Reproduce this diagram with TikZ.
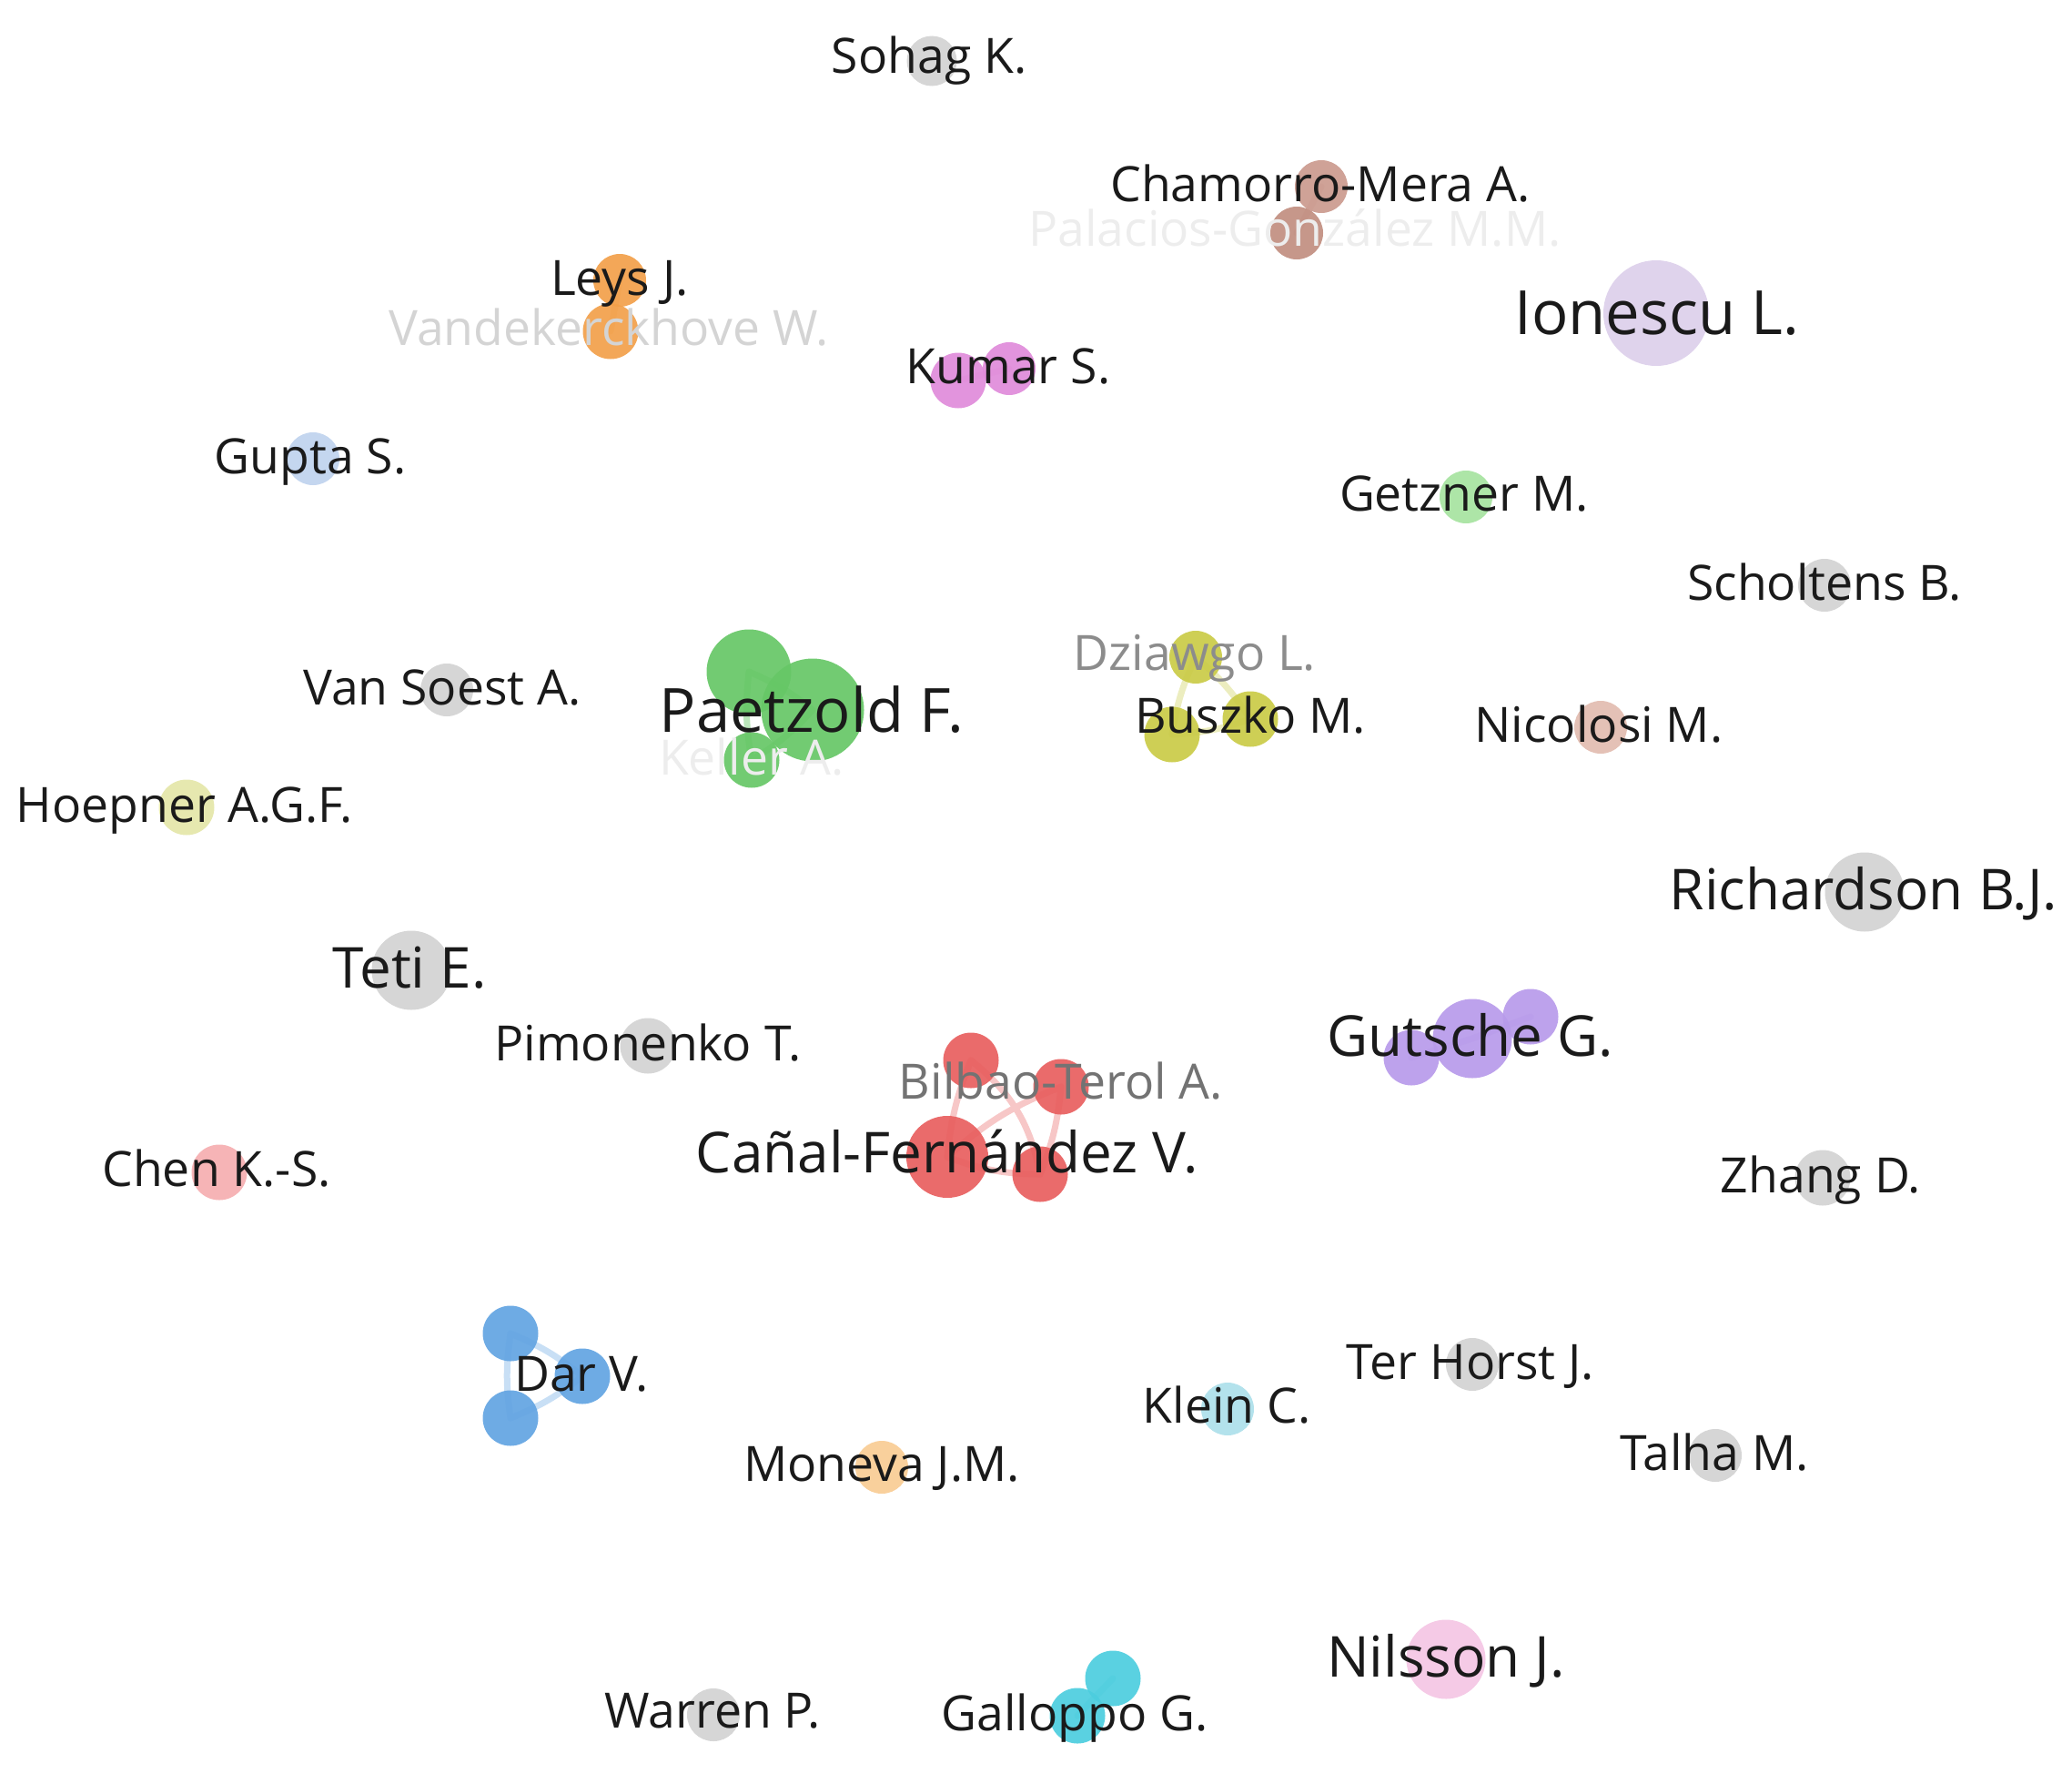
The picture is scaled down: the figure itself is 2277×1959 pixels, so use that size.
\documentclass[tikz,border=0pt]{standalone}
\usepackage{fontspec}
\setmainfont{Open Sans}
\usetikzlibrary{backgrounds}
\definecolor{txt}{HTML}{1A1A1A}
\definecolor{cgray}{HTML}{D2D2D2}
\definecolor{cchamo}{HTML}{CB9A8E}
\definecolor{cpala}{HTML}{C18E80}
\definecolor{corange}{HTML}{F2A04A}
\definecolor{cion}{HTML}{DCCFEA}
\definecolor{ckumar}{HTML}{E08BDA}
\definecolor{cgupta}{HTML}{BFD2EE}
\definecolor{cgetz}{HTML}{A6E3A0}
\definecolor{cyel}{HTML}{CACB47}
\definecolor{cgreen}{HTML}{66C766}
\definecolor{cnico}{HTML}{E2BCB0}
\definecolor{choep}{HTML}{E4E6A8}
\definecolor{cpurp}{HTML}{B79AEA}
\definecolor{cred}{HTML}{E85E5E}
\definecolor{cchen}{HTML}{F5AEB0}
\definecolor{cblue}{HTML}{62A4E2}
\definecolor{cklein}{HTML}{ADE0EA}
\definecolor{cmon}{HTML}{F8CC94}
\definecolor{cnils}{HTML}{F4C6E4}
\definecolor{ccyan}{HTML}{4CCDDE}
\tikzset{
  bub/.style={circle, inner sep=0pt, draw=none, fill=#1, fill opacity=0.92},
  lbl/.style={inner sep=0pt, text height=38pt, text depth=0pt, text=txt, font=\fontsize{53.5}{53.5}\selectfont},
  bigl/.style={text height=44pt, font=\fontsize{62}{62}\selectfont},
  hugel/.style={text height=48pt, font=\fontsize{67}{67}\selectfont},
  link/.style={line width=7pt, draw=#1, line cap=round},
}
\begin{document}
\begin{tikzpicture}[x=1pt,y=-1pt]
\useasboundingbox (0,0) rectangle (2277,1959);
% ---- bubbles ----
\node[bub=cgray, minimum size=55] (sohag) at (1024,67) {};
\node[bub=cchamo, minimum size=58] (chamo) at (1452,205) {};
\node[bub=cpala, minimum size=58] (pala) at (1425,256) {};
\node[bub=corange, minimum size=58] (leys) at (681,308) {};
\node[bub=corange, minimum size=61] (vand) at (671,364) {};
\node[bub=cion, minimum size=116] (ion) at (1820,344) {};
\node[bub=ckumar, minimum size=61] (kumarb) at (1053,418) {};
\node[bub=ckumar, minimum size=58] (kumar) at (1109,405) {};
\node[bub=cgupta, minimum size=58] (gupta) at (344,504) {};
\node[bub=cgetz, minimum size=58] (getz) at (1611,546) {};
\node[bub=cgray, minimum size=58] (schol) at (2005,643) {};
\node[bub=cyel, minimum size=58] (dzia) at (1314,722) {};
\node[bub=cyel, minimum size=61] (busz) at (1374,790) {};
\node[bub=cyel, minimum size=61] (buszb) at (1288,807) {};
\node[bub=cgray, minimum size=58] (vans) at (491,758) {};
\node[bub=cgreen, minimum size=93] (paeta) at (823,738) {};
\node[bub=cgreen, minimum size=113] (paet) at (893,780) {};
\node[bub=cgreen, minimum size=61] (kell) at (826,835) {};
\node[bub=cnico, minimum size=58] (nico) at (1759,799) {};
\node[bub=choep, minimum size=61] (hoep) at (205,887) {};
\node[bub=cgray, minimum size=87] (rich) at (2049,980) {};
\node[bub=cgray, minimum size=87] (teti) at (452,1066) {};
\node[bub=cgray, minimum size=61] (pimo) at (712,1149) {};
\node[bub=cpurp, minimum size=61] (gutsa) at (1551,1162) {};
\node[bub=cpurp, minimum size=87] (guts) at (1618,1141) {};
\node[bub=cpurp, minimum size=61] (gutsb) at (1682,1117) {};
\node[bub=cred, minimum size=61] (redtl) at (1067,1165) {};
\node[bub=cred, minimum size=61] (bilb) at (1166,1194) {};
\node[bub=cred, minimum size=90] (canal) at (1041,1271) {};
\node[bub=cred, minimum size=61] (redbr) at (1143,1290) {};
\node[bub=cchen, minimum size=61] (chen) at (241,1288) {};
\node[bub=cgray, minimum size=61] (zhang) at (2003,1294) {};
\node[bub=cblue, minimum size=61] (dara) at (561,1465) {};
\node[bub=cblue, minimum size=61] (dar) at (640,1512) {};
\node[bub=cblue, minimum size=61] (darb) at (561,1558) {};
\node[bub=cgray, minimum size=58] (terh) at (1618,1499) {};
\node[bub=cklein, minimum size=58] (klein) at (1349,1548) {};
\node[bub=cgray, minimum size=58] (talha) at (1885,1599) {};
\node[bub=cmon, minimum size=58] (mone) at (969,1612) {};
\node[bub=cnils, minimum size=87] (nils) at (1589,1823) {};
\node[bub=cgray, minimum size=58] (warr) at (784,1884) {};
\node[bub=ccyan, minimum size=61] (gallb) at (1223,1844) {};
\node[bub=ccyan, minimum size=61] (gall) at (1184,1885) {};
% ---- links ----
\begin{scope}[on background layer]
\draw[link=cgreen!45] (paeta.center) to[bend left=8] (paet.center);
\draw[link=cgreen!45] (paeta.center) to[bend right=8] (kell.center);
\draw[link=cgreen!45] (paet.center) to[bend left=8] (kell.center);
\draw[link=cyel!35] (dzia.center) to[bend left=8] (busz.center);
\draw[link=cyel!35] (dzia.center) to[bend right=8] (buszb.center);
\draw[link=cyel!35] (buszb.center) to[bend right=8] (busz.center);
\draw[link=cred!35] (redtl.center) to[bend right=8] (canal.center);
\draw[link=cred!35] (redtl.center) to[bend left=20] (redbr.center);
\draw[link=cred!35] (bilb.center) to[bend right=10] (canal.center);
\draw[link=cred!35] (bilb.center) to[bend left=8] (redbr.center);
\draw[link=cred!35] (canal.center) to[bend right=10] (redbr.center);
\draw[link=cblue!35] (dara.center) to[bend left=8] (dar.center);
\draw[link=cblue!35] (dara.center) to[bend right=8] (darb.center);
\draw[link=cblue!35] (darb.center) to[bend right=8] (dar.center);
\draw[link=ckumar!40] (kumarb.center) -- (kumar.center);
\draw[link=cpurp!40] (gutsa.center) -- (guts.center) -- (gutsb.center);
\draw[link=ccyan!40] (gallb.center) -- (gall.center);
\draw[link=corange!40] (leys.center) -- (vand.center);
\draw[link=cchamo!40] (chamo.center) -- (pala.center);
\end{scope}
% ---- labels ----
\node[lbl] (sohagL) at (1021,62) {Sohag K.};
\node[lbl] (chamoL) at (1451,202) {Chamorro-Mera A.};
\node[lbl, text=black!7] (palaL) at (1423,251) {Palacios-González M.M.};
\node[lbl] (leysL) at (681,305) {Leys J.};
\node[lbl, text=black!17] (vandL) at (669,360) {Vandekerckhove W.};
\node[lbl, hugel] (ionL) at (1821,343) {Ionescu L.};
\node[lbl] (kumarL) at (1108,402) {Kumar S.};
\node[lbl] (guptaL) at (341,501) {Gupta S.};
\node[lbl] (getzL) at (1609,542) {Getzner M.};
\node[lbl] (scholL) at (2005,640) {Scholtens B.};
\node[lbl, text=black!45] (dziaL) at (1313,717) {Dziawgo L.};
\node[lbl] (buszL) at (1374,786) {Buszko M.};
\node[lbl] (vansL) at (486,755) {Van Soest A.};
\node[lbl, text=black!7] (kellL) at (826,832) {Keller A.};
\node[lbl, hugel] (paetL) at (892,780) {Paetzold F.};
\node[lbl] (nicoL) at (1757,796) {Nicolosi M.};
\node[lbl] (hoepL) at (203,884) {Hoepner A.G.F.};
\node[lbl, bigl] (richL) at (2048,977) {Richardson B.J.};
\node[lbl, bigl] (tetiL) at (450,1063) {Teti E.};
\node[lbl] (pimoL) at (712,1146) {Pimonenko T.};
\node[lbl, bigl] (gutsL) at (1616,1138) {Gutsche G.};
\node[lbl, text=black!55] (bilbL) at (1166,1188) {Bilbao-Terol A.};
\node[lbl, bigl] (canalL) at (1041,1266) {Cañal-Fernández V.};
\node[lbl] (chenL) at (238,1284) {Chen K.-S.};
\node[lbl] (zhangL) at (2001,1291) {Zhang D.};
\node[lbl] (darL) at (639,1509) {Dar V.};
\node[lbl] (terhL) at (1616,1496) {Ter Horst J.};
\node[lbl] (kleinL) at (1348,1544) {Klein C.};
\node[lbl] (talhaL) at (1884,1596) {Talha M.};
\node[lbl] (moneL) at (969,1608) {Moneva J.M.};
\node[lbl, bigl] (nilsL) at (1589,1820) {Nilsson J.};
\node[lbl] (warrL) at (783,1879) {Warren P.};
\node[lbl] (gallL) at (1181,1882) {Galloppo G.};
\end{tikzpicture}
\end{document}
